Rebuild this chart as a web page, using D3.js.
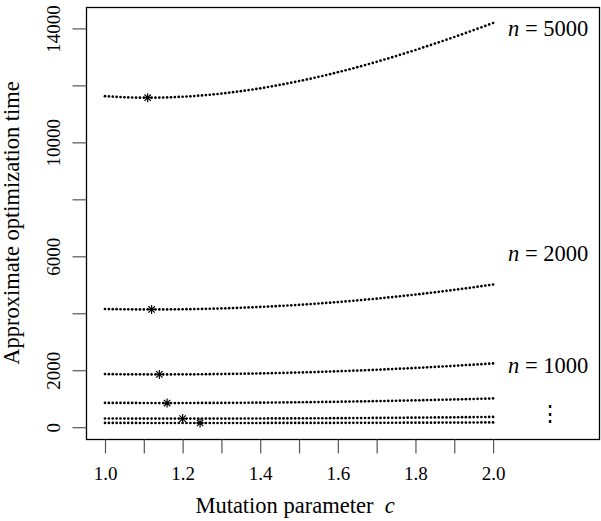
<!DOCTYPE html>
<html>
<head>
<meta charset="utf-8">
<script src="https://cdn.jsdelivr.net/npm/d3@7"></script>
<style>
  body { margin: 0; background: #fff; }
</style>
</head>
<body>
<div id="chart-container"></div>
<script>
// data
let cGrid = [1.00,1.01,1.02,1.03,1.04,1.05,1.06,1.07,1.08,1.09,
  1.10,1.11,1.12,1.13,1.14,1.15,1.16,1.17,1.18,1.19,
  1.20,1.21,1.22,1.23,1.24,1.25,1.26,1.27,1.28,1.29,
  1.30,1.31,1.32,1.33,1.34,1.35,1.36,1.37,1.38,1.39,
  1.40,1.41,1.42,1.43,1.44,1.45,1.46,1.47,1.48,1.49,
  1.50,1.51,1.52,1.53,1.54,1.55,1.56,1.57,1.58,1.59,
  1.60,1.61,1.62,1.63,1.64,1.65,1.66,1.67,1.68,1.69,
  1.70,1.71,1.72,1.73,1.74,1.75,1.76,1.77,1.78,1.79,
  1.80,1.81,1.82,1.83,1.84,1.85,1.86,1.87,1.88,1.89,
  1.90,1.91,1.92,1.93,1.94,1.95,1.96,1.97,1.98,1.99,
  2.00];

let t5000 = [11620,11611,11602,11595,11588,11583,11578,11574,11571,11569,
  11568,11567,11568,11569,11571,11574,11578,11582,11588,11594,
  11601,11609,11617,11626,11637,11647,11659,11671,11685,11698,
  11713,11728,11744,11761,11779,11797,11816,11835,11856,11877,
  11898,11920,11943,11967,11991,12016,12042,12068,12094,12122,
  12150,12178,12208,12237,12268,12299,12330,12362,12395,12428,
  12462,12496,12531,12567,12602,12639,12676,12713,12751,12789,
  12828,12868,12908,12948,12989,13030,13072,13114,13156,13199,
  13243,13286,13331,13375,13420,13466,13512,13558,13604,13651,
  13699,13746,13794,13843,13891,13940,13990,14039,14089,14139,
  14190];

let t2000 = [4150,4147,4145,4143,4141,4139,4138,4137,4136,4135,
  4134,4134,4134,4134,4134,4135,4136,4137,4138,4139,
  4141,4143,4145,4147,4150,4153,4156,4159,4163,4166,
  4170,4175,4179,4184,4188,4194,4199,4204,4210,4216,
  4222,4229,4236,4242,4250,4257,4264,4272,4280,4289,
  4297,4306,4315,4324,4333,4343,4353,4363,4373,4384,
  4394,4405,4417,4428,4440,4452,4464,4476,4489,4501,
  4514,4528,4541,4555,4569,4583,4597,4612,4627,4642,
  4657,4672,4688,4704,4720,4737,4753,4770,4787,4805,
  4822,4840,4858,4876,4895,4913,4932,4951,4971,4990,
  5010];

let t1000 = [1864,1863,1861,1860,1859,1858,1857,1856,1856,1855,
  1855,1854,1854,1854,1854,1854,1854,1854,1855,1855,
  1856,1856,1857,1858,1859,1860,1861,1863,1864,1866,
  1867,1869,1871,1873,1875,1877,1879,1881,1884,1886,
  1889,1892,1895,1898,1901,1904,1907,1911,1914,1918,
  1921,1925,1929,1933,1937,1942,1946,1950,1955,1960,
  1964,1969,1974,1979,1984,1990,1995,2000,2006,2012,
  2018,2023,2029,2036,2042,2048,2054,2061,2068,2074,
  2081,2088,2095,2102,2110,2117,2124,2132,2140,2148,
  2155,2163,2171,2180,2188,2196,2205,2213,2222,2231,
  2240];

let t500 = [855,854,854,853,852,852,851,851,851,850,
  850,850,850,849,849,849,849,849,849,849,
  850,850,850,850,851,851,851,852,852,853,
  854,854,855,856,857,857,858,859,860,861,
  862,863,865,866,867,868,870,871,873,874,
  876,877,879,880,882,884,886,887,889,891,
  893,895,897,900,902,904,906,908,911,913,
  916,918,921,923,926,929,931,934,937,940,
  943,945,948,952,955,958,961,964,967,971,
  974,977,981,984,988,991,995,999,1002,1006,
  1010];

let t200 = [306,306,305,305,305,304,304,304,304,303,
  303,303,303,303,303,303,302,302,302,302,
  302,302,302,302,302,303,303,303,303,303,
  303,303,304,304,304,304,305,305,305,306,
  306,306,307,307,308,308,309,309,310,310,
  311,311,312,312,313,314,314,315,316,316,
  317,318,319,320,320,321,322,323,324,325,
  326,327,328,329,330,331,332,333,334,335,
  336,337,338,339,341,342,343,344,345,347,
  348,349,351,352,353,355,356,358,359,361,
  362];

let t100 = [150,149.8,149.7,149.5,149.4,149.2,149.1,149,148.8,148.7,
  148.6,148.5,148.4,148.3,148.3,148.2,148.1,148.1,148,148,
  148,147.9,147.9,147.9,147.9,147.9,147.9,147.9,147.9,148,
  148,148,148.1,148.1,148.2,148.3,148.3,148.4,148.5,148.6,
  148.7,148.8,149,149.1,149.2,149.4,149.5,149.7,149.8,150,
  150.2,150.4,150.6,150.7,151,151.2,151.4,151.6,151.8,152.1,
  152.3,152.6,152.8,153.1,153.4,153.7,154,154.3,154.6,154.9,
  155.2,155.5,155.8,156.2,156.5,156.9,157.2,157.6,158,158.4,
  158.8,159.1,159.6,160,160.4,160.8,161.2,161.7,162.1,162.6,
  163,163.5,164,164.4,164.9,165.4,165.9,166.4,166.9,167.5,
  168];

// minimum of each curve (asterisks)
let optC = [1.11, 1.12, 1.14, 1.16, 1.20, 1.245];
let optT = [11567, 4134, 1854, 849, 302, 148];

let xTicks = [1.0,1.1,1.2,1.3,1.4,1.5,1.6,1.7,1.8,1.9,2.0];
let xTickLabels = [1.0,1.2,1.4,1.6,1.8,2.0];
let yTicks = [0,2000,4000,6000,8000,10000,12000,14000];
let yTickLabels = [0,2000,6000,10000,14000];

let curveLabels = ["5000", "2000", "1000"];
let curveLabelT = [14000, 6100, 2200];

// vars
let w = 601, h = 521;
let plot = {left: 86, top: 7, right: 599, bottom: 439};
let series = [t5000, t2000, t1000, t500, t200, t100];
let serif = "'Liberation Serif', 'Times New Roman', serif";

// R-style axis ranges (4% padding)
let xLim = [1, 2.224];
let xPad = 0.04 * (xLim[1] - xLim[0]);
let allT = series.flat();
let yLim = d3.extent(allT);
let yPad = 0.04 * (yLim[1] - yLim[0]);

let x = d3.scaleLinear()
  .domain([xLim[0] - xPad, xLim[1] + xPad])
  .range([plot.left, plot.right]);
let y = d3.scaleLinear()
  .domain([yLim[0] - yPad, yLim[1] + yPad])
  .range([plot.bottom, plot.top]);

let svg = d3.select("#chart-container")
  .append("svg")
  .attr("width", w)
  .attr("height", h)
  .attr("viewBox", "0 0 " + w + " " + h)
  .style("font-family", serif);

// dotted curves
let curvesGrp = svg.append("g");
series.forEach(function (s) {
  curvesGrp.append("g").selectAll("circle")
    .data(s)
    .join("circle")
    .attr("cx", (d, i) => x(cGrid[i]))
    .attr("cy", d => y(d))
    .attr("r", 1.35)
    .attr("fill", "#000");
});

// asterisks at the optimum
let star = "M-4.5,0H4.5M0,-4.5V4.5M-3.2,-3.2L3.2,3.2M-3.2,3.2L3.2,-3.2";
svg.append("g").selectAll("path")
  .data(optC)
  .join("path")
  .attr("transform", (d, i) => "translate(" + x(d) + "," + y(optT[i]) + ")")
  .attr("d", star)
  .attr("stroke", "#000")
  .attr("stroke-width", 1.2)
  .attr("fill", "none");

// box
svg.append("rect")
  .attr("x", plot.left + 0.5)
  .attr("y", plot.top + 0.5)
  .attr("width", plot.right - plot.left)
  .attr("height", plot.bottom - plot.top)
  .attr("fill", "none")
  .attr("stroke", "#000")
  .attr("stroke-width", 1.3);

// x axis
let xAxis = svg.append("g")
  .attr("transform", "translate(0," + (plot.bottom + 0.5) + ")")
  .call(d3.axisBottom(x)
    .tickValues(xTicks)
    .tickSize(14)
    .tickFormat(d => xTickLabels.includes(d) ? d.toFixed(1) : ""));
xAxis.attr("font-family", null).attr("font-size", null);
xAxis.select(".domain").remove();
xAxis.selectAll("line").attr("stroke", "#555").attr("stroke-width", 1.2);
xAxis.selectAll("text")
  .attr("y", 40.5)
  .attr("dy", 0)
  .style("font-size", "19px")
  .style("font-family", serif);

// y axis
let yAxis = svg.append("g")
  .attr("transform", "translate(" + (plot.left + 0.5) + ",0)")
  .call(d3.axisLeft(y)
    .tickValues(yTicks)
    .tickSize(14)
    .tickFormat(d => yTickLabels.includes(d) ? d : ""));
yAxis.attr("font-family", null).attr("font-size", null);
yAxis.select(".domain").remove();
yAxis.selectAll("line").attr("stroke", "#555").attr("stroke-width", 1.2);
yAxis.selectAll("text")
  .attr("transform", "rotate(-90)")
  .attr("x", 0)
  .attr("y", -26.5)
  .attr("dy", 0)
  .style("text-anchor", "middle")
  .style("font-size", "19px")
  .style("font-family", serif);

// axis titles
let xTitle = svg.append("text")
  .attr("x", x(1.5) - 4)
  .attr("y", 513)
  .style("text-anchor", "middle")
  .style("font-size", "22.5px")
  .style("font-family", serif);
xTitle.append("tspan").text("Mutation parameter\u2002");
xTitle.append("tspan").style("font-style", "italic").text("c");

svg.append("text")
  .attr("transform", "translate(19," + ((plot.top + plot.bottom) / 2) + ") rotate(-90)")
  .style("text-anchor", "middle")
  .style("font-size", "22.5px")
  .style("font-family", serif)
  .text("Approximate optimization time");

// curve labels
let labelGrp = svg.append("g");
curveLabels.forEach(function (lab, i) {
  let t = labelGrp.append("text")
    .attr("x", x(2.0) + 15)
    .attr("y", y(curveLabelT[i]) + 8)
    .style("font-size", "22.5px")
    .style("font-family", serif);
  t.append("tspan").style("font-style", "italic").text("n");
  t.append("tspan").text(" = " + lab);
});

// vertical dots
labelGrp.append("text")
  .attr("x", 550)
  .attr("y", 421)
  .style("text-anchor", "middle")
  .style("font-size", "22px")
  .style("font-family", serif)
  .text("\u22EE");
</script>
</body>
</html>
